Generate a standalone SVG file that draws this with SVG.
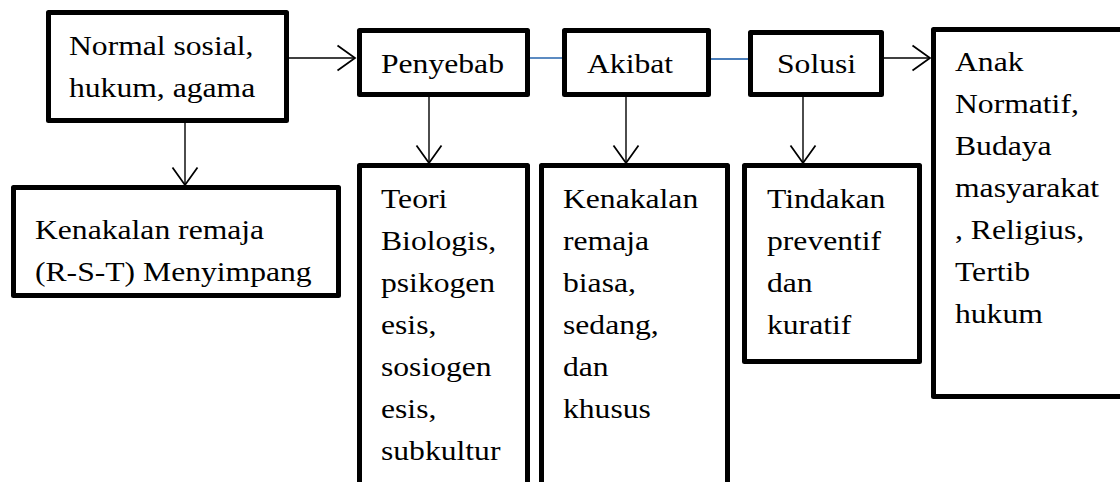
<svg xmlns="http://www.w3.org/2000/svg" width="1120" height="482" viewBox="0 0 1120 482">
<defs>
<style>
.box{fill:#fff;stroke:#000;stroke-width:5;stroke-linejoin:round}
.t{font-family:"Liberation Serif","Times New Roman",serif;font-size:28px;fill:#000}
.c{stroke:#000;stroke-width:1.4;fill:none}
.b{stroke:#4a7ebb;stroke-width:1.8;fill:none}
</style>
<marker id="ah" markerUnits="userSpaceOnUse" markerWidth="30" markerHeight="30" viewBox="-15 -12 17 24" refX="0" refY="0" orient="auto" overflow="visible">
<path d="M-14,-10 L0,0 L-14,10" fill="none" stroke="#000" stroke-width="1.4"/>
</marker>
</defs>
<rect width="1120" height="482" fill="#fff"/>
<g id="connectors">
<line class="c" x1="289" y1="58" x2="355" y2="58" marker-end="url(#ah)"/>
<line class="b" x1="530" y1="58" x2="562" y2="58"/>
<line class="b" x1="711" y1="59" x2="748" y2="59"/>
<line class="c" x1="884" y1="58" x2="930" y2="58" marker-end="url(#ah)"/>
<line class="c" x1="185" y1="123" x2="185" y2="185" marker-end="url(#ah)"/>
<line class="c" x1="429" y1="97" x2="429" y2="163" marker-end="url(#ah)"/>
<line class="c" x1="626" y1="97" x2="626" y2="163" marker-end="url(#ah)"/>
<line class="c" x1="803" y1="97" x2="803" y2="163" marker-end="url(#ah)"/>
</g>
<g id="normal">
<rect class="box" x="48.5" y="12.5" width="238" height="108"/>
<text class="t" transform="translate(69,55) scale(1.13,1)"><tspan x="0" dy="0">Normal sosial,</tspan><tspan x="0" dy="42">hukum, agama</tspan></text>
</g>
<g id="penyebab">
<rect class="box" x="359.5" y="30.5" width="168" height="64"/>
<text class="t" transform="translate(381,73) scale(1.13,1)">Penyebab</text>
</g>
<g id="akibat">
<rect class="box" x="564.5" y="30.5" width="144" height="64"/>
<text class="t" transform="translate(587,73) scale(1.13,1)">Akibat</text>
</g>
<g id="solusi">
<rect class="box" x="750.5" y="32.5" width="131" height="62"/>
<text class="t" transform="translate(777,73) scale(1.13,1)">Solusi</text>
</g>
<g id="anak">
<rect class="box" x="933.5" y="29.5" width="200" height="367"/>
<text class="t" transform="translate(955,71) scale(1.13,1)"><tspan x="0" dy="0">Anak</tspan><tspan x="0" dy="42">Normatif,</tspan><tspan x="0" dy="42">Budaya</tspan><tspan x="0" dy="42">masyarakat</tspan><tspan x="0" dy="42">, Religius,</tspan><tspan x="0" dy="42">Tertib</tspan><tspan x="0" dy="42">hukum</tspan></text>
</g>
<g id="kenakalan">
<rect class="box" x="13.5" y="187.5" width="325" height="108"/>
<text class="t" transform="translate(35,239) scale(1.13,1)"><tspan x="0" dy="0">Kenakalan remaja</tspan><tspan x="0" dy="42">(R-S-T) Menyimpang</tspan></text>
</g>
<g id="teori">
<rect class="box" x="359.5" y="165.5" width="168" height="340"/>
<text class="t" transform="translate(381,208) scale(1.13,1)"><tspan x="0" dy="0">Teori</tspan><tspan x="0" dy="42">Biologis,</tspan><tspan x="0" dy="42">psikogen</tspan><tspan x="0" dy="42">esis,</tspan><tspan x="0" dy="42">sosiogen</tspan><tspan x="0" dy="42">esis,</tspan><tspan x="0" dy="42">subkultur</tspan></text>
</g>
<g id="jenis">
<rect class="box" x="541.5" y="165.5" width="186" height="340"/>
<text class="t" transform="translate(563,208) scale(1.13,1)"><tspan x="0" dy="0">Kenakalan</tspan><tspan x="0" dy="42">remaja</tspan><tspan x="0" dy="42">biasa,</tspan><tspan x="0" dy="42">sedang,</tspan><tspan x="0" dy="42">dan</tspan><tspan x="0" dy="42">khusus</tspan></text>
</g>
<g id="tindakan">
<rect class="box" x="744.5" y="165.5" width="175" height="196"/>
<text class="t" transform="translate(767,208) scale(1.13,1)"><tspan x="0" dy="0">Tindakan</tspan><tspan x="0" dy="42">preventif</tspan><tspan x="0" dy="42">dan</tspan><tspan x="0" dy="42">kuratif</tspan></text>
</g>
</svg>
